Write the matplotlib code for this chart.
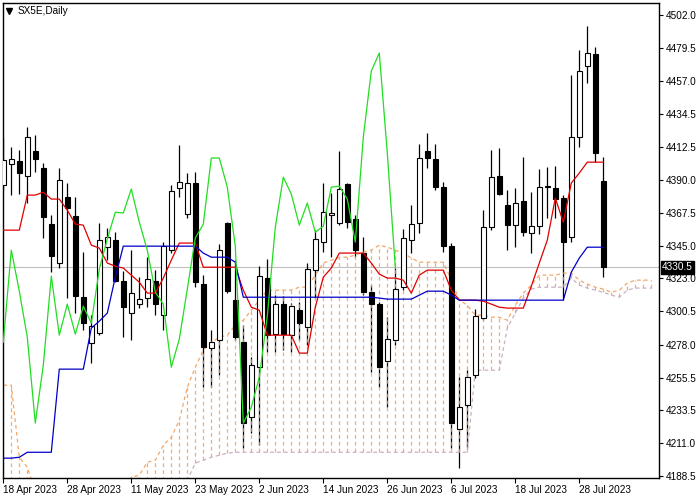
import numpy as np
import matplotlib
matplotlib.use("Agg")
import matplotlib.pyplot as plt
from matplotlib.lines import Line2D

plt.rcParams['font.family'] = ['Liberation Sans', 'DejaVu Sans']

# --- data (SX5E daily, 18 Apr - 2 Aug 2023) ---
opens = [4386.4, 4400.7, 4402.7, 4392.5, 4409.5, 4398.0, 4359.9, 4333.4, 4378.2, 4365.3,
         4310.2, 4279.0, 4285.8, 4344.2, 4349.0, 4321.1, 4299.4, 4305.5, 4309.6, 4321.1,
         4298.0, 4342.2, 4384.4, 4366.7, 4387.8, 4319.1, 4275.6, 4281.0, 4360.6, 4308.2,
         4279.6, 4228.6, 4262.6, 4323.2, 4285.1, 4305.5, 4284.4, 4301.4, 4289.8, 4328.6,
         4347.6, 4366.0, 4360.6, 4387.1, 4363.3, 4340.2, 4313.6, 4305.5, 4266.7, 4281.0,
         4317.0, 4349.0, 4360.6, 4409.5, 4404.1, 4385.0, 4344.9, 4220.5, 4236.8, 4257.2,
         4296.0, 4357.8, 4392.5, 4372.8, 4359.2, 4375.5, 4353.8, 4358.5, 4385.0, 4384.4,
         4377.6, 4351.0, 4419.0, 4467.3, 4475.5, 4389.1]
highs = [4418.4, 4412.2, 4410.2, 4425.8, 4420.4, 4401.4, 4366.0, 4398.0, 4387.8, 4378.2,
         4340.8, 4298.0, 4360.6, 4357.2, 4354.4, 4327.9, 4342.2, 4323.8, 4337.4, 4328.6,
         4347.6, 4386.4, 4413.6, 4394.6, 4395.2, 4325.2, 4287.8, 4346.3, 4361.2, 4335.4,
         4291.2, 4269.4, 4331.3, 4336.1, 4311.6, 4310.9, 4306.2, 4306.8, 4333.4, 4355.8,
         4387.8, 4381.0, 4409.5, 4387.8, 4366.0, 4351.0, 4318.4, 4306.8, 4296.6, 4330.0,
         4356.5, 4372.8, 4414.3, 4421.8, 4414.3, 4388.4, 4347.0, 4255.8, 4260.6, 4302.1,
         4369.4, 4410.2, 4411.6, 4383.0, 4384.4, 4405.4, 4381.6, 4397.3, 4398.6, 4399.3,
         4379.6, 4461.2, 4478.2, 4494.5, 4480.2, 4405.4]
lows = [4383.0, 4379.6, 4380.3, 4374.2, 4395.2, 4350.4, 4327.2, 4330.0, 4309.6, 4299.4,
        4287.8, 4265.4, 4284.4, 4335.4, 4320.4, 4283.0, 4281.0, 4302.8, 4303.4, 4298.0,
        4287.8, 4340.2, 4378.2, 4364.0, 4317.0, 4249.0, 4249.0, 4257.2, 4313.0, 4281.0,
        4207.6, 4217.8, 4210.0, 4272.8, 4272.8, 4274.2, 4272.8, 4281.0, 4277.6, 4309.6,
        4340.8, 4337.4, 4359.2, 4357.2, 4337.4, 4311.6, 4259.2, 4249.0, 4235.4, 4277.6,
        4315.0, 4340.2, 4353.8, 4398.0, 4383.0, 4340.8, 4207.6, 4194.0, 4207.6, 4255.2,
        4294.6, 4355.8, 4379.6, 4342.2, 4344.2, 4351.7, 4340.2, 4353.1, 4364.0, 4364.0,
        4308.2, 4347.6, 4412.2, 4455.8, 4402.0, 4323.8]
closes = [4403.4, 4404.1, 4394.6, 4419.0, 4404.1, 4364.6, 4338.1, 4389.8, 4370.8, 4310.9,
          4292.6, 4290.5, 4349.0, 4351.0, 4321.1, 4303.4, 4313.0, 4308.9, 4322.5, 4305.5,
          4344.9, 4382.3, 4388.4, 4387.8, 4320.4, 4276.2, 4279.6, 4342.2, 4314.3, 4283.0,
          4224.6, 4264.0, 4324.5, 4284.4, 4305.5, 4285.1, 4304.1, 4292.6, 4329.3, 4349.7,
          4368.0, 4367.4, 4383.7, 4361.2, 4342.2, 4313.6, 4305.5, 4262.6, 4281.7, 4315.7,
          4350.4, 4359.9, 4404.8, 4404.8, 4385.0, 4344.9, 4224.6, 4235.4, 4255.8, 4297.3,
          4357.8, 4391.8, 4380.3, 4359.2, 4374.2, 4354.4, 4358.5, 4385.0, 4385.7, 4376.9,
          4347.6, 4419.0, 4463.9, 4476.2, 4408.2, 4330.5]

tenkan = [4355.8, 4355.8, 4355.8, 4379.6, 4379.6, 4381.6, 4376.9, 4376.9, 4369.4, 4359.9,
          4359.2, 4345.6, 4343.6, 4333.4, 4331.3, 4330.0, 4325.2, 4320.4, 4313.0, 4313.0,
          4323.2, 4335.4, 4347.0, 4347.0, 4347.0, 4330.6, 4330.6, 4330.6, 4330.6, 4330.6,
          4315.0, 4303.4, 4301.4, 4284.4, 4284.4, 4284.4, 4284.4, 4272.2, 4272.2, 4303.4,
          4323.8, 4330.0, 4340.2, 4340.2, 4340.2, 4340.2, 4333.4, 4325.9, 4323.2, 4323.2,
          4321.8, 4313.0, 4325.2, 4328.6, 4328.6, 4328.6, 4315.0, 4308.2, 4308.2, 4308.2,
          4307.5, 4305.5, 4303.4, 4302.8, 4302.8, 4302.8, 4317.7, 4333.4, 4349.0, 4377.6,
          4361.2, 4387.8, 4394.6, 4402.0, 4402.0, 4402.0]
kijun = [4200.8, 4200.8, 4201.4, 4204.8, 4204.8, 4204.8, 4204.8, 4261.3, 4261.3, 4261.3,
         4261.3, 4289.2, 4293.9, 4299.4, 4323.8, 4344.9, 4344.9, 4344.9, 4344.9, 4344.9,
         4344.9, 4344.9, 4344.9, 4344.9, 4344.9, 4340.2, 4337.4, 4337.4, 4337.4, 4334.0,
         4310.2, 4310.2, 4310.2, 4310.2, 4310.2, 4310.2, 4310.2, 4310.2, 4310.2, 4310.2,
         4310.2, 4310.2, 4310.2, 4310.2, 4310.2, 4310.2, 4310.2, 4309.6, 4308.9, 4308.9,
         4308.9, 4308.9, 4311.6, 4314.3, 4314.3, 4314.3, 4311.6, 4308.2, 4308.2, 4308.2,
         4308.2, 4308.2, 4308.2, 4308.2, 4308.2, 4308.2, 4308.2, 4308.2, 4308.2, 4308.2,
         4308.2, 4327.2, 4336.8, 4344.2, 4344.2, 4344.2]
chikou = [4279.6, 4342.2, 4314.3, 4283.0, 4224.6, 4264.0, 4324.5, 4284.4, 4305.5, 4285.1,
          4304.1, 4292.6, 4329.3, 4349.7, 4368.0, 4367.4, 4383.7, 4361.2, 4342.2, 4313.6,
          4305.5, 4262.6, 4281.7, 4315.7, 4350.4, 4359.9, 4404.8, 4404.8, 4385.0, 4344.9,
          4224.6, 4235.4, 4255.8, 4297.3, 4357.8, 4391.8, 4380.3, 4359.2, 4374.2, 4354.4,
          4358.5, 4385.0, 4385.7, 4376.9, 4347.6, 4419.0, 4463.9, 4476.2, 4408.2, 4330.5]
span_a = [4250.4, 4250.4, 4201.4, 4194.6, 4178.0, 4178.0, 4178.0, 4178.0, 4178.0, 4178.0,
          4178.0, 4178.0, 4178.0, 4178.0, 4178.0, 4178.0, 4187.8, 4189.2, 4198.0, 4199.4,
          4209.6, 4215.0, 4226.6, 4249.0, 4262.6, 4274.2, 4279.6, 4283.0, 4284.4, 4291.2,
          4294.6, 4301.4, 4308.2, 4315.0, 4315.0, 4315.0, 4315.0, 4317.0, 4317.0, 4325.2,
          4333.4, 4335.4, 4337.4, 4337.4, 4338.8, 4340.8, 4342.2, 4345.6, 4344.2, 4342.2,
          4340.2, 4336.8, 4334.0, 4334.0, 4334.0, 4334.0, 4321.8, 4308.2, 4304.8, 4298.0,
          4298.0, 4296.6, 4296.6, 4294.6, 4304.8, 4313.0, 4318.4, 4325.2, 4325.2, 4325.2,
          4326.6, 4326.6, 4321.8, 4319.1, 4317.0, 4315.7, 4313.6, 4315.0, 4319.8, 4321.8,
          4321.8, 4321.8]
span_b = [4165.0] * 23 + [
          4185.8, 4197.4, 4199.4, 4201.4, 4202.8, 4204.2, 4204.8, 4204.8, 4204.8, 4204.8,
          4204.8, 4204.8, 4204.8, 4204.8, 4204.8, 4204.8, 4204.8, 4204.8, 4204.8, 4204.8,
          4204.8, 4204.8, 4204.8, 4204.8, 4204.8, 4204.8, 4204.8, 4204.8, 4204.8, 4204.8,
          4204.8, 4204.8, 4204.8, 4204.8, 4204.8, 4204.8, 4260.6, 4260.6, 4260.6, 4260.6,
          4289.2, 4299.4, 4309.6, 4315.7, 4317.0, 4317.0, 4317.0, 4317.0, 4323.2, 4318.4,
          4316.4, 4315.0, 4313.6, 4311.6, 4310.2, 4315.0, 4316.4, 4316.4, 4316.4]

date_labels = ["18 Apr 2023", "28 Apr 2023", "11 May 2023", "23 May 2023", "2 Jun 2023",
               "14 Jun 2023", "26 Jun 2023", "6 Jul 2023", "18 Jul 2023", "28 Jul 2023"]
price_ticks = [4188.5, 4211.0, 4233.5, 4255.5, 4278.0, 4300.5, 4323.0, 4345.0,
               4367.5, 4390.0, 4412.5, 4434.5, 4457.0, 4479.5, 4502.0]
last_price = 4330.5

# --- figure ---
fig = plt.figure(figsize=(7, 5), dpi=100)
ax = fig.add_axes([2.7 / 700, 1 - 478.3 / 500, 656.6 / 700, 475.6 / 500])

o = np.array(opens); h = np.array(highs); l = np.array(lows); c = np.array(closes)
x = np.arange(len(o))
xc = np.arange(len(span_a))
a = np.array(span_a); b = np.array(span_b)

# cloud hatch + span lines
ax.vlines(xc, np.minimum(a, b), np.maximum(a, b), colors='#F09850', linewidth=0.9,
          linestyles=(0, (3, 2.5)), alpha=0.8, zorder=2)
ax.plot(xc, a, color='#F09850', lw=0.9, ls=(0, (3, 2.5)), alpha=0.85, zorder=2)
ax.plot(xc, b, color='#C8B0C8', lw=0.9, ls=(0, (3, 2.5)), zorder=2)

# last price line
ax.axhline(last_price, color='#C0C0C0', lw=0.8, zorder=0.5)

# candles
ax.vlines(x, l, h, colors='black', linewidth=0.9, zorder=1)
up = c >= o
body_lo = np.minimum(o, c)
body_h = np.maximum(np.abs(c - o), 0.3)
ax.bar(x[up], body_h[up], bottom=body_lo[up], width=0.58, color='white',
       edgecolor='black', linewidth=0.8, zorder=3)
ax.bar(x[~up], body_h[~up], bottom=body_lo[~up], width=0.58, color='black',
       edgecolor='black', linewidth=0.8, zorder=3)

# ichimoku lines
ax.plot(x, tenkan, color='#E00000', lw=0.9, zorder=4)
ax.plot(x, kijun, color='#0000C8', lw=0.9, zorder=4)
ax.plot(np.arange(len(chikou)), chikou, color='#22DD22', lw=0.9, zorder=4)

ax.set_xlim(-0.075, 82.0)
ax.set_ylim(4187.1, 4510.4)

ax.yaxis.tick_right()
ax.set_yticks(price_ticks)
ax.set_yticklabels([f"{p:.1f}" for p in price_ticks])
ax.set_xticks(np.arange(0, 8 * len(date_labels), 8))
ax.set_xticklabels(date_labels, ha='left')
ax.tick_params(axis='y', direction='out', length=3, width=0.8, pad=1.5, labelsize=7.2)
ax.tick_params(axis='x', direction='out', length=3.5, width=0.8, pad=1, labelsize=7.2)
for s in ax.spines.values():
    s.set_linewidth(1.0)

# last price tag
ax.text(1.004, last_price, f"{last_price:.1f}", transform=ax.get_yaxis_transform(),
        ha='left', va='center', fontsize=7.2, color='white', zorder=6, clip_on=False,
        bbox=dict(boxstyle='square,pad=0.12', fc='black', ec='black'))

# header
fig.add_artist(Line2D([9 / 700], [1 - 11 / 500], marker='v', ms=4.5, color='black',
                      transform=fig.transFigure))
fig.text(18 / 700, 1 - 11 / 500, "SX5E,Daily", fontsize=7.2, va='center', ha='left')

fig.savefig("out.png", dpi=100)
